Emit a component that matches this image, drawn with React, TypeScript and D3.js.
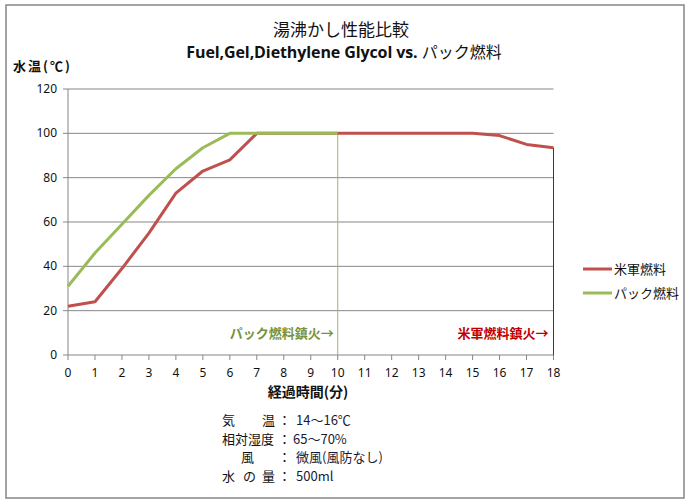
import React from "react";
import * as d3 from "d3";

const minutes = d3.range(0, 19);
const militaryFuel = [22, 24, 39, 55, 73, 83, 88, 100, 100, 100, 100, 100, 100, 100, 100, 100, 99, 95, 93.5];
const packFuel = [31, 46, 59, 72, 84, 93.5, 100, 100, 100, 100, 100];
const yTicks = [0, 20, 40, 60, 80, 100, 120];

const seriesNames = ["米軍燃料", "パック燃料"];
const seriesColors = ["#C0504D", "#9BBB59"];

const notes = [
  { label: ["気", "温"], value: "14～16℃" },
  { label: ["相対湿度"], value: "65～70%" },
  { label: ["風"], value: "微風(風防なし)" },
  { label: ["水", "の", "量"], value: "500ml" },
];

const width = 691;
const height = 504;
const marginLeft = 68;
const marginRight = 138;
const marginTop = 89;
const marginBottom = 149;

const font = "'Noto Sans', 'Noto Sans CJK JP', sans-serif";
const jpFont = "'Noto Sans CJK JP', sans-serif";

export default function App() {
  const x = d3.scaleLinear().domain([0, 18]).range([marginLeft, width - marginRight + 0.5]);
  const y = d3.scaleLinear().domain([0, 120]).range([height - marginBottom, marginTop]);

  const line = d3
    .line<number>()
    .x((_, i) => x(minutes[i]))
    .y((d) => y(d));

  const redEnd = militaryFuel.length - 1;
  const greenEnd = packFuel.length - 1;

  // x offsets of the note label glyphs
  const labelX: Record<number, number[]> = {
    0: [222, 262],
    1: [222],
    2: [241],
    3: [222, 243, 262],
  };

  return (
    <svg
      width={width}
      height={height}
      style={{ position: "absolute", left: 0, top: 0, background: "#fff" }}
      fontFamily={font}
    >
      <rect x={6} y={5} width={678} height={493} fill="#fff" stroke="#868686" strokeWidth={1.5} />

      {/* titles */}
      <text x={341} y={36} textAnchor="middle" fontSize={17} fontFamily={jpFont} fill="#111">
        湯沸かし性能比較
      </text>
      <text x={344} y={58} textAnchor="middle" fontSize={16} fill="#111">
        <tspan fontWeight="bold" fontFamily="'Open Sans', sans-serif" letterSpacing={-0.1}>
          Fuel,Gel,Diethylene Glycol vs.{" "}
        </tspan>
        <tspan fontFamily={jpFont}>パック燃料</tspan>
      </text>
      <text x={13} y={71} fontSize={13} fontWeight="bold" fontFamily={jpFont} fill="#111" textLength={57} lengthAdjust="spacing">
        水温(℃)
      </text>

      {/* grid */}
      {yTicks.slice(1).map((t) => (
        <line key={t} x1={x(0)} x2={x(18)} y1={y(t)} y2={y(t)} stroke="#868686" strokeWidth={1} />
      ))}
      <line x1={x(0)} x2={x(0)} y1={y(120)} y2={y(0)} stroke="#868686" />
      <line x1={x(0)} x2={x(18)} y1={y(0)} y2={y(0)} stroke="#868686" />

      {/* y ticks */}
      {yTicks.map((t) => (
        <g key={t}>
          <line x1={x(0) - 5} x2={x(0)} y1={y(t)} y2={y(t)} stroke="#868686" />
          <text x={57} y={y(t) + 4} textAnchor="end" fontSize={12} fill="#111">
            {t}
          </text>
        </g>
      ))}

      {/* x ticks */}
      {minutes.map((m) => (
        <g key={m}>
          <line x1={x(m)} x2={x(m)} y1={y(0)} y2={y(0) + 5} stroke="#868686" />
          <text x={x(m)} y={377} textAnchor="middle" fontSize={12} fill="#111">
            {m}
          </text>
        </g>
      ))}
      <text x={308} y={397} textAnchor="middle" fontSize={14} fontWeight="bold" fontFamily={jpFont} fill="#111">
        経過時間(分)
      </text>

      {/* extinguish drop lines */}
      <line
        x1={x(minutes[greenEnd])}
        x2={x(minutes[greenEnd])}
        y1={y(packFuel[greenEnd])}
        y2={y(0)}
        stroke="#9BBB59"
        strokeWidth={1}
      />
      <line
        x1={x(minutes[redEnd])}
        x2={x(minutes[redEnd])}
        y1={y(militaryFuel[redEnd])}
        y2={y(0)}
        stroke="#C00000"
        strokeWidth={1}
      />

      {/* series */}
      <path d={line(militaryFuel) ?? ""} fill="none" stroke={seriesColors[0]} strokeWidth={3} strokeLinejoin="round" />
      <path d={line(packFuel) ?? ""} fill="none" stroke={seriesColors[1]} strokeWidth={3} strokeLinejoin="round" />

      <text x={x(minutes[greenEnd]) - 4} y={338} textAnchor="end" fontSize={13} fontWeight="bold" fontFamily={jpFont} fill="#77933C">
        パック燃料鎮火→
      </text>
      <text x={x(minutes[redEnd]) - 5} y={338} textAnchor="end" fontSize={13} fontWeight="bold" fontFamily={jpFont} fill="#C00000">
        米軍燃料鎮火→
      </text>

      {/* legend */}
      {seriesNames.map((name, i) => (
        <g key={name} transform={`translate(583,${269 + i * 24})`}>
          <line x1={0} x2={29} y1={0} y2={0} stroke={seriesColors[i]} strokeWidth={3} />
          <text x={31} y={5} fontSize={13} fontFamily={jpFont} fill="#111">
            {name}
          </text>
        </g>
      ))}

      {/* conditions */}
      {notes.map((n, i) => {
        const yy = 425 + i * 18.5;
        return (
          <g key={i} fontSize={13} fill="#111">
            {n.label.length === 1 && n.label[0].length > 1 ? (
              <text x={222} y={yy} fontFamily={jpFont}>
                {n.label[0]}
              </text>
            ) : (
              n.label.map((c, j) => (
                <text key={j} x={labelX[i][j]} y={yy} fontFamily={jpFont}>
                  {c}
                </text>
              ))
            )}
            <text x={278} y={yy} fontFamily={jpFont}>
              ：
            </text>
            <text x={i === 1 ? 293 : 296} y={yy} fontFamily={jpFont} fill="#1a1a33">
              {n.value}
            </text>
          </g>
        );
      })}
    </svg>
  );
}
